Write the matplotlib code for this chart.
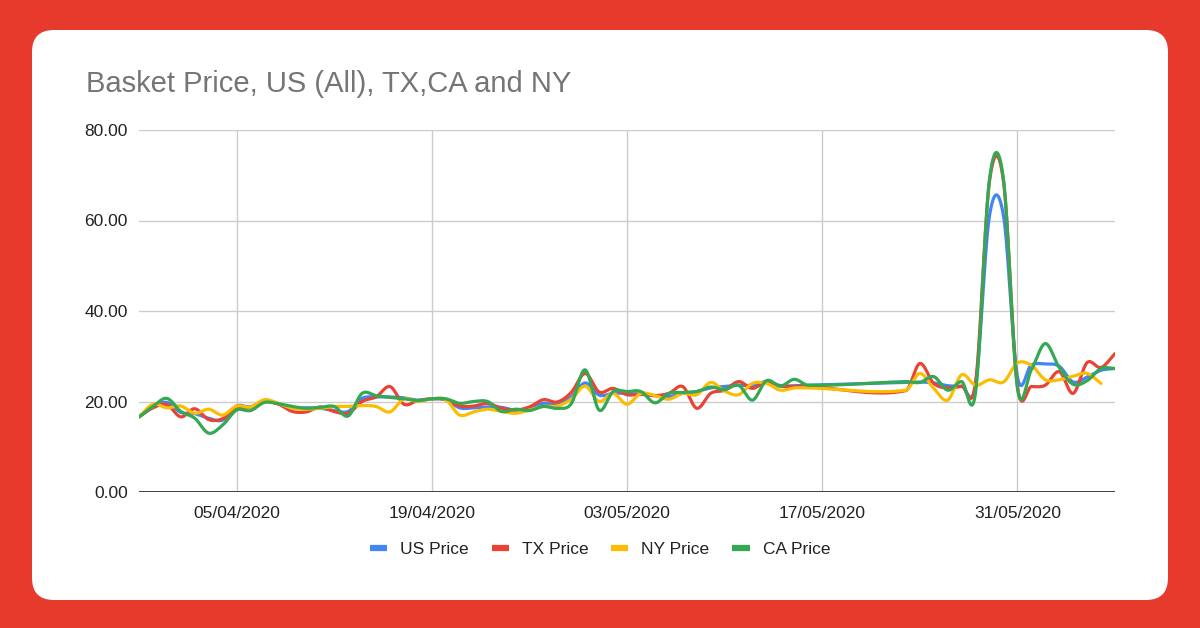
import numpy as np
import pandas as pd
import matplotlib
matplotlib.use('Agg')
import matplotlib.pyplot as plt
import matplotlib.dates as mdates
from matplotlib.patches import FancyBboxPatch
from matplotlib.lines import Line2D
from matplotlib.ticker import FormatStrFormatter

plt.rcParams['font.family'] = ['Liberation Sans', 'DejaVu Sans']

# daily data, nothing between 17/05 and 22/05
dates = list(pd.date_range('2020-03-29', '2020-05-16')) + list(pd.date_range('2020-05-23', '2020-06-07'))

us_price = [16.6, 18.8, 19.8, 17.6, 17.3, 16.3, 15.9, 19.0, 18.8, 20.0,
            19.5, 18.6, 18.6, 18.5, 18.0, 17.8, 20.7, 21.0, 21.0, 20.8,
            20.3, 20.6, 20.4, 18.6, 18.6, 18.8, 18.7, 18.1, 18.5, 19.6,
            19.3, 21.0, 24.1, 21.4, 21.8, 21.8, 21.6, 21.3, 21.1, 21.8,
            22.2, 23.0, 23.3, 23.6, 23.5, 24.4, 23.5, 23.5, 23.6,
            24.2, 24.3, 24.1, 23.5, 23.4, 23.8, 61.1, 61.1, 25.5, 28.1, 28.3, 27.8, 24.3, 25.4, 26.9, 27.3]
tx_price = [16.6, 18.6, 19.3, 16.6, 18.4, 16.0, 16.2, 18.5, 18.8, 20.0,
            19.4, 17.8, 17.7, 18.8, 17.8, 17.4, 20.0, 21.0, 23.3, 19.4,
            20.2, 20.6, 20.4, 19.0, 19.0, 19.6, 18.5, 18.1, 18.8, 20.4,
            19.9, 22.0, 26.2, 22.1, 22.9, 21.5, 21.6, 21.3, 21.8, 23.3,
            18.5, 21.8, 22.5, 24.4, 22.9, 24.4, 23.4, 23.3, 23.3,
            22.4, 28.4, 24.0, 23.0, 23.4, 24.2, 68.7, 68.7, 23.5, 23.3, 23.6, 26.6, 21.8, 28.6, 27.5, 30.6]
ny_price = [16.6, 19.4, 18.6, 19.0, 17.4, 18.3, 17.0, 19.0, 18.8, 20.4,
            19.6, 18.5, 18.3, 18.5, 18.9, 18.9, 19.1, 18.9, 17.7, 20.6,
            20.0, 20.6, 20.4, 17.0, 17.7, 18.3, 17.8, 17.4, 18.1, 18.9,
            19.0, 20.5, 23.4, 20.0, 21.8, 19.4, 21.8, 21.3, 20.5, 21.8,
            21.5, 24.2, 22.3, 21.5, 24.0, 24.0, 22.5, 23.0, 23.0,
            22.5, 26.2, 22.9, 20.3, 25.9, 23.6, 24.8, 24.3, 28.5, 28.0, 24.8, 24.8, 25.6, 26.2, 24.0]
ca_price = [16.6, 18.9, 20.7, 17.8, 16.3, 13.0, 14.8, 18.1, 18.0, 19.8,
            19.5, 18.9, 18.5, 18.7, 18.9, 16.8, 21.8, 21.3, 20.9, 20.6,
            20.2, 20.6, 20.6, 19.6, 20.0, 20.0, 17.8, 18.3, 18.0, 18.9,
            18.5, 19.5, 27.0, 18.1, 22.2, 22.2, 22.2, 19.7, 21.8, 22.0,
            22.2, 23.2, 22.6, 23.6, 20.3, 24.6, 23.4, 24.9, 23.6,
            24.4, 24.2, 25.5, 22.5, 24.4, 22.0, 69.2, 69.2, 23.0, 27.0, 32.8, 27.5, 23.8, 24.6, 27.3, 27.3]

series = [us_price, tx_price, ny_price, ca_price]
names = ['US Price', 'TX Price', 'NY Price', 'CA Price']
colors = ['#4285F4', '#EA4335', '#FBBC04', '#34A853']
x_ticks = ['2020-04-05', '2020-04-19', '2020-05-03', '2020-05-17', '2020-05-31']
y_ticks = [0, 20, 40, 60, 80]
title = 'Basket Price, US (All), TX,CA and NY'


def smooth(x, y, steps=24):
    # cubic hermite through the points, tangents from neighbours
    x = np.asarray(x, float)
    y = np.asarray(y, float)
    m = np.zeros_like(y)
    m[1:-1] = (y[2:] - y[:-2]) / (x[2:] - x[:-2])
    m[0] = (y[1] - y[0]) / (x[1] - x[0])
    m[-1] = (y[-1] - y[-2]) / (x[-1] - x[-2])
    t = np.linspace(0, 1, steps, endpoint=False)
    h00 = 2 * t**3 - 3 * t**2 + 1
    h10 = t**3 - 2 * t**2 + t
    h01 = -2 * t**3 + 3 * t**2
    h11 = t**3 - t**2
    xs, ys = [], []
    for i in range(len(x) - 1):
        h = x[i + 1] - x[i]
        xs.append(x[i] + t * h)
        ys.append(h00 * y[i] + h10 * h * m[i] + h01 * y[i + 1] + h11 * h * m[i + 1])
    xs.append([x[-1]])
    ys.append([y[-1]])
    return np.concatenate(xs), np.concatenate(ys)


W, H = 1200, 628
fig = plt.figure(figsize=(W / 100, H / 100), dpi=100)
fig.patch.set_facecolor('#E63A2D')

bg = fig.add_axes([0, 0, 1, 1], zorder=0)
bg.set_xlim(0, W)
bg.set_ylim(H, 0)
bg.axis('off')
bg.add_patch(FancyBboxPatch((32, 30), 1136, 570, boxstyle='round,pad=0,rounding_size=22',
                            fc='white', ec='none'))

left, right, top, bottom = 139, 1115, 130, 492
ax = fig.add_axes([left / W, 1 - bottom / H, (right - left) / W, (bottom - top) / H], zorder=1)
ax.patch.set_alpha(0)

xnum = mdates.date2num(dates)
for vals, name, c in zip(series, names, colors):
    xs, ys = smooth(xnum[:len(vals)], vals)
    ax.plot(xs, ys, color=c, lw=2.3, solid_capstyle='round', label=name, zorder=3)

ax.set_xlim(mdates.date2num(pd.Timestamp('2020-03-29')), mdates.date2num(pd.Timestamp('2020-06-07')))
ax.set_ylim(0, 80)
ax.set_yticks(y_ticks)
ax.yaxis.set_major_formatter(FormatStrFormatter('%.2f'))
ax.set_xticks(mdates.date2num(pd.to_datetime(x_ticks)))
ax.xaxis.set_major_formatter(mdates.DateFormatter('%d/%m/%Y'))
ax.grid(color='#cccccc', lw=1, zorder=1)
ax.axhline(0, color='#333333', lw=1.3, zorder=2)
for s in ax.spines.values():
    s.set_visible(False)
ax.tick_params(axis='both', length=0, labelsize=12.5, labelcolor='#222222')
ax.tick_params(axis='y', pad=8)
ax.tick_params(axis='x', pad=10)

fig.text(86 / W, 1 - 84 / H, title, color='#757575', fontsize=21, ha='left', va='center')

handles = [Line2D([0], [0], color=c, lw=4.5, solid_capstyle='butt') for c in colors]
fig.legend(handles, names, loc='center', bbox_to_anchor=(0.5, 1 - 549 / H), ncol=4,
           frameon=False, fontsize=12.5, handlelength=1.0, handletextpad=0.75,
           columnspacing=1.3, labelcolor='#222222')

fig.savefig('out.png', dpi=100, facecolor=fig.get_facecolor())
